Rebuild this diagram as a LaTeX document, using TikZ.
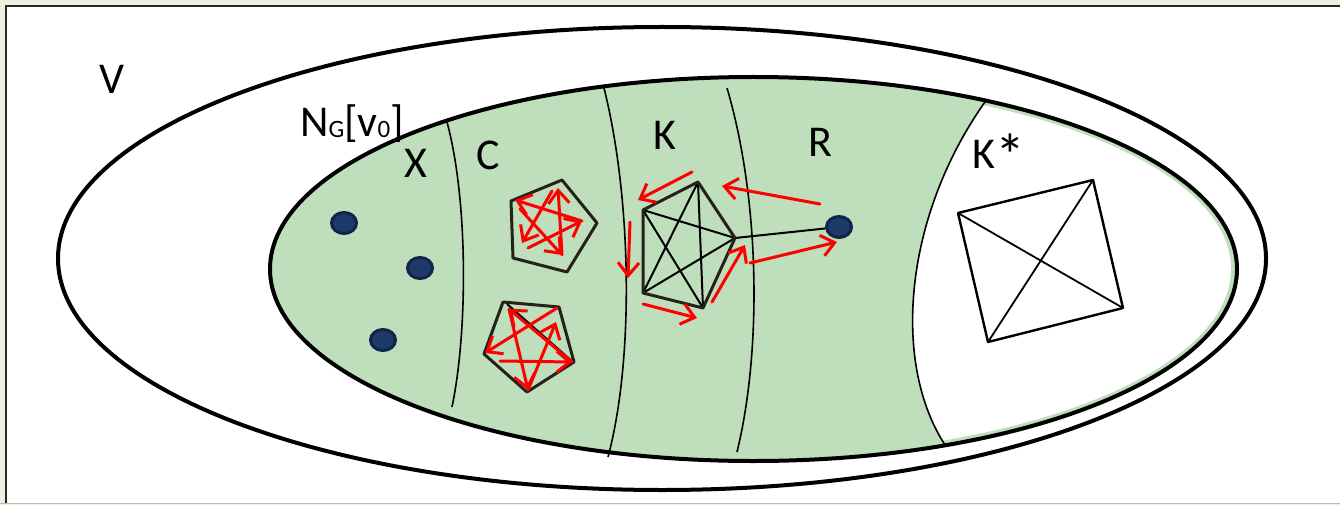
\documentclass[tikz,border=0pt]{standalone}
\usepackage{fontspec}
\setmainfont{Carlito}
\usetikzlibrary{arrows.meta,shapes.geometric}
\definecolor{bgc}{RGB}{238,240,225}
\definecolor{framec}{RGB}{40,42,30}
\definecolor{greenc}{RGB}{191,222,187}
\definecolor{dotout}{RGB}{15,36,71}
\definecolor{dotin}{RGB}{30,58,104}
\definecolor{polyc}{RGB}{35,35,25}
\definecolor{grayline}{RGB}{185,185,185}
\begin{document}
\begin{tikzpicture}[x=1pt,y=-1pt,
  lbl/.style={font=\fontsize{44}{50}\selectfont, inner sep=0pt, anchor=base},
  dot/.style={ellipse, draw=dotout, fill=dotin, line width=3pt, minimum width=25pt, minimum height=21pt, inner sep=0pt},
  redarr/.style={red, line width=3pt, line cap=round, -{Straight Barb[length=13pt,width=21pt,line width=3pt]}},
  sep/.style={line width=1.6pt, black},
  polyline/.style={line width=3pt, polyc, line join=round},
  diag/.style={line width=2pt, black}]
\useasboundingbox (0,0) rectangle (1340,505);
% frame
\fill[bgc] (0,0) rectangle (1340,505);
\fill[white] (6,6) rectangle (1340,503);
\draw[grayline, line width=1.5pt] (0,503.5) -- (1340,503.5);
\draw[framec, line width=2pt] (6,503) -- (6,6) -- (1340,6);
% outer ellipse V
\draw[line width=4pt] (662,258.5) ellipse [x radius=604pt, y radius=231.5pt];
% inner ellipse
\fill[greenc] (753.5,269) ellipse [x radius=483.5pt, y radius=192pt];
\begin{scope}
  \clip (752,269) ellipse [x radius=479pt, y radius=187pt];
  \fill[white] (990,95) .. controls (905,210) and (890,360) .. (945,445) -- (950,480) -- (1300,480) -- (1300,60) -- (995,60) -- cycle;
\end{scope}
\begin{scope}
  \clip (753.5,269) ellipse [x radius=483.5pt, y radius=192pt];
  \draw[sep] (990,95) .. controls (905,210) and (890,360) .. (945,445);
\end{scope}
\draw[line width=4pt] (753.5,269) ellipse [x radius=483.5pt, y radius=192pt];
% separators
\draw[sep] (447,122) .. controls (468,200) and (468,330) .. (452,407);
\draw[sep] (604,88) .. controls (632,200) and (634,360) .. (608,457);
\draw[sep] (727,88) .. controls (760,200) and (762,350) .. (737,452);
% labels
\node[lbl] (lV) at (112,94) {V};
\node[lbl, anchor=base west] (lN) at (300,137) {N\raisebox{-1pt}{\fontsize{25}{26}\selectfont G}[v\raisebox{-1pt}{\fontsize{25}{26}\selectfont 0}]};
\node[lbl] (lX) at (416,178) {X};
\node[lbl] (lC) at (488,170) {C};
\node[lbl] (lK) at (665,150) {K};
\node[lbl] (lR) at (820,157) {R};
\node[lbl, anchor=base west] (lKs) at (972,168) {K\raisebox{-8pt}{\fontsize{60}{60}\selectfont *}};
% dots
\node[dot] (d1) at (344,223) {};
\node[dot] (d2) at (420,268) {};
\node[dot] (d3) at (383,340) {};
% pentagon 1
\coordinate (a1) at (562,180);
\coordinate (a2) at (597,223);
\coordinate (a3) at (567,272);
\coordinate (a4) at (513,258);
\coordinate (a5) at (511,201);
\draw[polyline] (a1) -- (a2) -- (a3) -- (a4) -- (a5) -- cycle;
\coordinate (s1) at (558,188);
\coordinate (s1t) at (552,191);
\coordinate (s2) at (582,221);
\coordinate (s3) at (562,255);
\coordinate (s4) at (522,243);
\coordinate (s4t) at (528,248);
\coordinate (s5) at (515,200);
\coordinate (s5t) at (520,209);
\draw[redarr] (s1t) -- (s4);
\draw[redarr] (s4t) -- (s2);
\draw[redarr] (s2) -- (s5);
\draw[redarr] (s5t) -- (s3);
\draw[redarr] (s3) -- (s1);
% pentagon 2
\coordinate (b1) at (503,302);
\coordinate (b2) at (559,307);
\coordinate (b3) at (574,362);
\coordinate (b4) at (527,392);
\coordinate (b5) at (484,354);
\draw[polyline] (b1) -- (b2) -- (b3) -- (b4) -- (b5) -- cycle;
\coordinate (bd1) at (507,304);
\coordinate (bd2) at (573,362);
\draw[diag] (bd1) -- (bd2);
\coordinate (p1) at (509,309);
\coordinate (p2) at (557,308);
\coordinate (p2h) at (556,322);
\coordinate (p3) at (572,362);
\coordinate (p4) at (528,390);
\coordinate (p5) at (485,353);
\coordinate (p5t) at (500,361);
\draw[redarr] (p2) -- (p5);
\draw[redarr] (p5t) -- (p3);
\draw[redarr] (p3) -- (p1);
\draw[redarr] (p1) -- (p4);
\draw[redarr] (p4) -- (p2h);
% K pentagon
\coordinate (k1) at (643,210);
\coordinate (k2) at (698,182);
\coordinate (k3) at (735,238);
\coordinate (k4) at (703,308);
\coordinate (k5) at (643,293);
\node[dot] (d4) at (839,227) {};
\draw[diag] (k3) -- (d4);
\draw[diag] (k1) -- (k3);
\draw[diag] (k1) -- (k4);
\draw[diag] (k2) -- (k5);
\draw[diag] (k2) -- (k4);
\draw[diag] (k5) -- (k3);
\draw[polyline] (k1) -- (k2) -- (k3) -- (k4) -- (k5) -- cycle;
% red arrows around K
\coordinate (r1t) at (692,172); \coordinate (r1h) at (638,200);
\coordinate (r2t) at (630,222); \coordinate (r2h) at (628,278);
\coordinate (r3t) at (643,304); \coordinate (r3h) at (697,318);
\coordinate (r4t) at (712,302); \coordinate (r4h) at (745,245);
\coordinate (r5t) at (750,263); \coordinate (r5h) at (837,242);
\coordinate (r6t) at (820,204); \coordinate (r6h) at (722,186);
\draw[redarr] (r1t) -- (r1h);
\draw[redarr] (r2t) -- (r2h);
\draw[redarr] (r3t) -- (r3h);
\draw[redarr] (r4t) -- (r4h);
\draw[redarr] (r5t) -- (r5h);
\draw[redarr] (r6t) -- (r6h);
% K* square
\coordinate (q1) at (958,213);
\coordinate (q2) at (1093,180);
\coordinate (q3) at (1123,308);
\coordinate (q4) at (988,342);
\draw[line width=2.4pt, line join=round] (q1) -- (q2) -- (q3) -- (q4) -- cycle;
\draw[diag, line width=1.8pt] (q1) -- (q3);
\draw[diag, line width=1.8pt] (q2) -- (q4);
\end{tikzpicture}
\end{document}
